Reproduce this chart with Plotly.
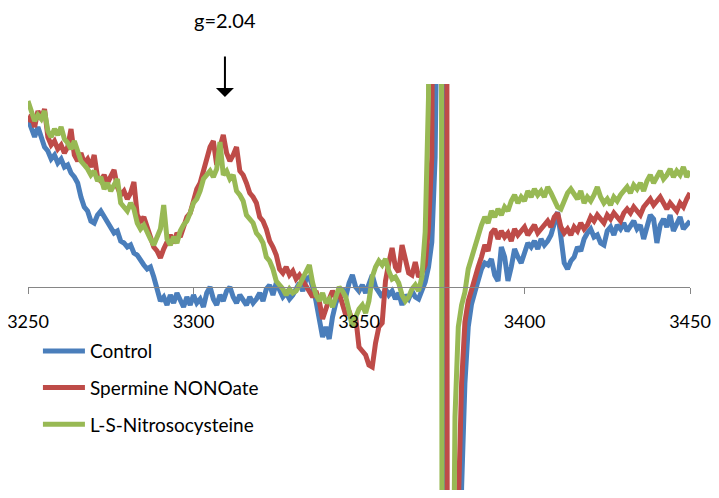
import plotly.graph_objects as go

# Magnetic field (G) sampled every 1 G
FIELD = list(range(3250, 3451))

# EPR signal (arbitrary units); values far outside
# the visible range are the off-scale central line
CONTROL = [
    168, 158, 150, 160, 148, 140, 136, 128, 132, 124,
    128, 120, 122, 114, 110, 104, 90, 80, 76, 66,
    64, 72, 76, 70, 64, 60, 54, 56, 46, 44,
    40, 42, 34, 32, 26, 22, 18, 20, 10, -4,
    -14, -10, -18, -8, -16, -6, -14, -20, -10, -18,
    -8, -16, -12, -20, -6, 0, -12, -18, -8, -14,
    -4, 0, -10, -16, -8, -14, -18, -10, -16, -12,
    -6, -14, -2, 2, -8, 4, -4, -10, -6, -12,
    -8, -2, 4, -4, 8, 10, 0, -14, -32, -50,
    -40, -52, -30, -16, -8, -2, -10, 4, 12, 0,
    -4, 2, -6, 4, 12, 0, -6, -10, -2, -8,
    -4, -12, -6, -18, -8, -12, -4, -10, -12, -2,
    5, 20, 45, 130, 400, 3000, -750, -2000, -1500, -900,
    -450, -200, -96, -40, -17, -5, 8, 18, 24, 22,
    28, 12, 6, 40, 30, 6, 20, 38, 30, 24,
    34, 44, 40, 46, 38, 48, 42, 46, 52, 62,
    75, 50, 24, 18, 26, 30, 40, 36, 48, 54,
    58, 50, 52, 44, 42, 56, 60, 52, 62, 58,
    64, 56, 62, 66, 58, 62, 48, 60, 72, 68,
    44, 62, 68, 60, 72, 56, 64, 70, 58, 62,
    66,
]

SPERMINE_NONOATE = [
    165, 172, 160, 176, 168, 178, 150, 142, 146, 138,
    142, 134, 140, 158, 132, 126, 134, 124, 128, 120,
    132, 110, 106, 112, 104, 110, 117, 100, 92, 96,
    88, 94, 105, 72, 66, 70, 60, 48, 40, 36,
    29, 38, 46, 52, 44, 54, 50, 62, 70, 74,
    88, 98, 104, 116, 124, 140, 146, 122, 140, 152,
    134, 126, 132, 140, 116, 112, 104, 94, 90, 84,
    70, 66, 58, 46, 40, 32, 18, 14, 20, 12,
    16, 8, 12, 6, 0, -6, -10, -4, -14, -32,
    -20, -12, -4, -10, -6, -18, -28, -24, -34, -30,
    -60, -64, -68, -78, -80, -56, -40, -36, 6, 24,
    39, 20, 15, 42, 30, 14, 12, 25, 10, 14,
    22, 60, 130, 300, 1000, 2500, 3000, -2000, -1500, -600,
    -220, -96, -35, -14, -3, 10, 20, 30, 42, 36,
    54, 58, 48, 56, 50, 54, 46, 58, 52, 56,
    60, 52, 58, 62, 54, 58, 62, 66, 60, 70,
    74, 60, 54, 58, 52, 60, 56, 64, 58, 62,
    70, 66, 72, 68, 64, 72, 68, 74, 70, 66,
    74, 78, 74, 80, 76, 72, 80, 84, 88, 82,
    86, 90, 84, 78, 84, 80, 76, 84, 80, 88,
    94,
]

L_S_NITROSOCYSTEINE = [
    186, 174, 166, 172, 168, 176, 156, 150, 158, 152,
    160, 148, 144, 138, 146, 136, 126, 122, 118, 112,
    116, 106, 110, 98, 104, 96, 102, 108, 84, 80,
    76, 84, 78, 64, 58, 62, 54, 48, 42, 50,
    58, 82, 48, 42, 50, 44, 56, 62, 66, 74,
    84, 88, 96, 108, 112, 116, 110, 118, 145, 112,
    116, 108, 112, 96, 92, 86, 72, 68, 64, 54,
    50, 44, 30, 26, 18, 6, 2, -2, -8, -2,
    -6, -4, 2, 8, 14, 22, 4, -8, -14, -6,
    -16, -12, -20, -8, 0, -4, -10, -24, -40, -30,
    -22, -18, -26, -14, 10, 20, 26, 22, 28, 16,
    8, 10, 4, -8, -14, -10, -2, 2, -4, 10,
    55, 190, 800, 2500, 3000, -300, -3000, -3000, -500, -130,
    -40, -18, -5, 18, 30, 42, 50, 62, 70, 64,
    76, 70, 78, 72, 80, 76, 86, 92, 84, 90,
    86, 96, 90, 98, 92, 96, 90, 100, 94, 88,
    80, 78, 86, 94, 98, 92, 88, 96, 84, 90,
    86, 92, 100, 90, 84, 88, 82, 90, 86, 92,
    96, 100, 94, 102, 98, 104, 96, 106, 112, 104,
    110, 116, 108, 112, 118, 110, 116, 112, 120, 110,
    116,
]

X_TICKS = [3250, 3300, 3350, 3400, 3450]
G_LABEL = "g=2.04"
G_FIELD = 3309.5

FONT = "Lato, 'Open Sans', sans-serif"

series = [
    ("Control", CONTROL, "#4A7EBB"),
    ("Spermine NONOate", SPERMINE_NONOATE, "#BE4B48"),
    ("L-S-Nitrosocysteine", L_S_NITROSOCYSTEINE, "#98B954"),
]

fig = go.Figure()
for name, values, color in series:
    fig.add_trace(go.Scatter(
        x=FIELD, y=values, mode="lines", name=name, legendgroup=name,
        line=dict(color=color, width=5),
    ))

# the page body has an 8px margin, so the figure is 8px smaller each way
fig.update_layout(
    width=711, height=490,
    margin=dict(l=20, r=29, t=76, b=8, autoexpand=False),
    paper_bgcolor="white", plot_bgcolor="white",
    font=dict(family=FONT, size=18, color="black"),
    legend=dict(
        x=0.015, y=0.389, xanchor="left", yanchor="top",
        bgcolor="rgba(0,0,0,0)", tracegroupgap=9, itemwidth=42,
        font=dict(size=19),
    ),
    xaxis=dict(
        range=[3250, 3450], tickvals=X_TICKS,
        showline=True, linecolor="#868686", linewidth=1,
        ticks="outside", ticklen=6, tickcolor="#868686",
        showgrid=False, zeroline=False, automargin=False,
        anchor="free", position=0.5,
        ticklabelstandoff=12, ticklabeloverflow="allow",
    ),
    yaxis=dict(range=[-203, 203], visible=False, automargin=False),
    annotations=[
        dict(x=G_FIELD, xref="x", y=1.158, yref="paper", text=G_LABEL,
             yanchor="middle", xanchor="center",
             showarrow=False, font=dict(size=20)),
        dict(x=G_FIELD, xref="x", y=0.968, yref="paper", text="",
             showarrow=True, ax=0, ay=-42, arrowhead=1, arrowsize=1.5,
             arrowwidth=2, arrowcolor="black"),
    ],
)

fig.write_html("out.html")
